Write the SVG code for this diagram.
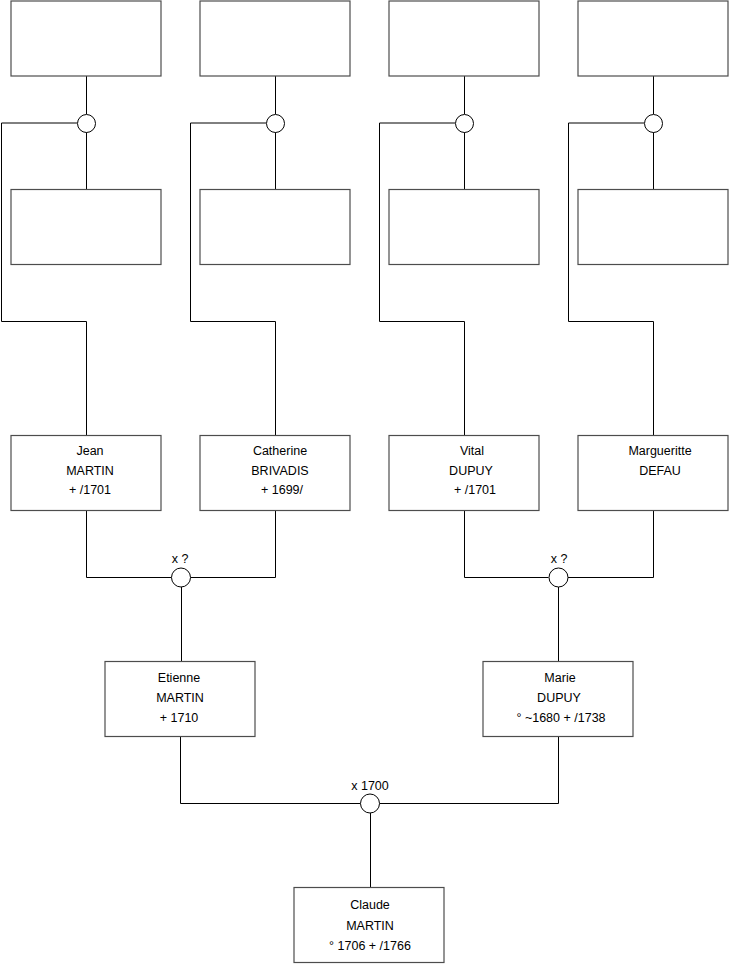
<svg xmlns="http://www.w3.org/2000/svg" width="740" height="975" viewBox="0 0 740 975">
<style>
.box{fill:#fff;stroke:#4d4d4d;stroke-width:1.2}
.c{fill:#fff;stroke:#000;stroke-width:1}
.l{fill:none;stroke:#000;stroke-width:1}
text{font-family:"Liberation Sans",Arial,sans-serif;font-size:12.5px;fill:#000;text-anchor:middle}
</style>
<rect width="740" height="975" fill="#fff"/>
<g id="connectors">
<path class="l" d="M86.5 76V114M86.5 132V189M77 123H1.5V321.5H86.5V435"/>
<path class="l" d="M275.5 76V114M275.5 132V189M266 123H190.5V321.5H275.5V435"/>
<path class="l" d="M464.5 76V114M464.5 132V189M455 123H379.5V321.5H464.5V435"/>
<path class="l" d="M653.5 76V114M653.5 132V189M644 123H568.5V321.5H653.5V435"/>
<path class="l" d="M86.5 511V577.5H171.5M190.5 577.5H275.5V511M181.5 587V661"/>
<path class="l" d="M464.5 511V577.5H548.5M567.5 577.5H653.5V511M558.5 587V661"/>
<path class="l" d="M180.5 737V803.5H360.5M379.5 803.5H558.5V737M370.5 813V887"/>
</g>
<g id="m1"><circle class="c" cx="86.5" cy="123.5" r="9"/></g>
<g id="m2"><circle class="c" cx="275.5" cy="123.5" r="9"/></g>
<g id="m3"><circle class="c" cx="464.5" cy="123.5" r="9"/></g>
<g id="m4"><circle class="c" cx="653.5" cy="123.5" r="9"/></g>
<g id="m5"><circle class="c" cx="181" cy="577.5" r="9.5"/><text x="180" y="563">x ?</text></g>
<g id="m6"><circle class="c" cx="558.5" cy="577.5" r="9.5"/><text x="559" y="563">x ?</text></g>
<g id="m7"><circle class="c" cx="370" cy="803.5" r="9.5"/><text x="370" y="790">x 1700</text></g>
<g id="p1"><rect class="box" x="11" y="1" width="150" height="75"/></g>
<g id="p2"><rect class="box" x="200" y="1" width="150" height="75"/></g>
<g id="p3"><rect class="box" x="389" y="1" width="150" height="75"/></g>
<g id="p4"><rect class="box" x="578" y="1" width="150" height="75"/></g>
<g id="p5"><rect class="box" x="11" y="189.5" width="150" height="75"/></g>
<g id="p6"><rect class="box" x="200" y="189.5" width="150" height="75"/></g>
<g id="p7"><rect class="box" x="389" y="189.5" width="150" height="75"/></g>
<g id="p8"><rect class="box" x="578" y="189.5" width="150" height="75"/></g>
<g id="jean"><rect class="box" x="11" y="435.5" width="150" height="75"/><text x="90" y="455">Jean</text><text x="90" y="475">MARTIN</text><text x="90" y="494">+ /1701</text></g>
<g id="catherine"><rect class="box" x="200" y="435.5" width="150" height="75"/><text x="280" y="455">Catherine</text><text x="280" y="475">BRIVADIS</text><text x="282" y="494">+ 1699/</text></g>
<g id="vital"><rect class="box" x="389" y="435.5" width="150" height="75"/><text x="472" y="455">Vital</text><text x="471" y="475">DUPUY</text><text x="475" y="494">+ /1701</text></g>
<g id="margueritte"><rect class="box" x="578" y="435.5" width="150" height="75"/><text x="660" y="455">Margueritte</text><text x="660" y="475">DEFAU</text></g>
<g id="etienne"><rect class="box" x="105" y="661.5" width="150" height="75"/><text x="179" y="682">Etienne</text><text x="180" y="702">MARTIN</text><text x="179" y="722">+ 1710</text></g>
<g id="marie"><rect class="box" x="483" y="661.5" width="150" height="75"/><text x="560" y="682">Marie</text><text x="559" y="702">DUPUY</text><text x="561" y="722">° ~1680 + /1738</text></g>
<g id="claude"><rect class="box" x="294" y="887.5" width="150" height="75"/><text x="370" y="909">Claude</text><text x="370" y="930">MARTIN</text><text x="370" y="950">° 1706 + /1766</text></g>
</svg>
